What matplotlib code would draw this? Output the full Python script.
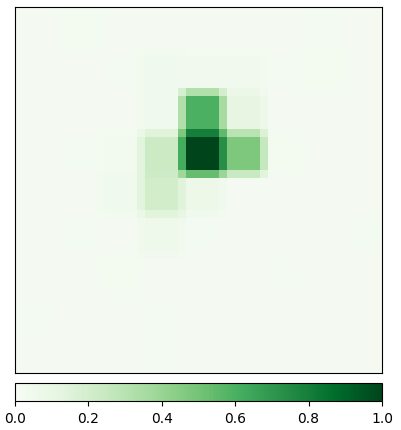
import numpy as np
import matplotlib
matplotlib.use("Agg")
import matplotlib.pyplot as plt

# 9x9 heat values
row0 = [0.02, 0.03, 0.02, 0.02, 0.02, 0.02, 0.02, 0.025, 0.02]
row1 = [0.02, 0.02, 0.025, 0.045, 0.04, 0.04, 0.025, 0.03, 0.02]
row2 = [0.02, 0.02, 0.02, 0.045, 0.60, 0.11, 0.02, 0.02, 0.02]
row3 = [0.02, 0.025, 0.035, 0.23, 1.00, 0.47, 0.03, 0.02, 0.02]
row4 = [0.02, 0.02, 0.05, 0.21, 0.07, 0.02, 0.02, 0.02, 0.02]
row5 = [0.02, 0.025, 0.02, 0.06, 0.025, 0.02, 0.02, 0.02, 0.025]
row6 = [0.02, 0.02, 0.03, 0.02, 0.02, 0.02, 0.025, 0.02, 0.02]
row7 = [0.025, 0.02, 0.02, 0.025, 0.02, 0.02, 0.02, 0.02, 0.02]
row8 = [0.02, 0.02, 0.02, 0.025, 0.02, 0.02, 0.02, 0.02, 0.02]
cbar_ticks = [0.0, 0.2, 0.4, 0.6, 0.8, 1.0]

data = np.array([row0, row1, row2, row3, row4, row5, row6, row7, row8])

# display rendering: each cell split into 5 sub-pixels, first sub-pixel blends with previous cell
f = 5
up = np.repeat(np.repeat(data, f, axis=0), f, axis=1)
disp = up.copy()
for i in range(f, up.shape[0], f):
    disp[i, :] = 0.5 * (up[i - 1, :] + up[i, :])
tmp = disp.copy()
for j in range(f, up.shape[1], f):
    disp[:, j] = 0.5 * (tmp[:, j - 1] + tmp[:, j])

fig = plt.figure(figsize=(4.01, 4.31), dpi=100)
ax = fig.add_axes([15 / 401, 57 / 431, 367 / 401, 366 / 431])
im = ax.imshow(disp, cmap="Greens", vmin=0, vmax=1, interpolation="nearest", aspect="auto")
ax.set_xticks([])
ax.set_yticks([])

cax = fig.add_axes([15 / 401, 29 / 431, 367 / 401, 18 / 431])
cb = fig.colorbar(im, cax=cax, orientation="horizontal")
cb.set_ticks(cbar_ticks)

fig.savefig("out.png", dpi=100)
